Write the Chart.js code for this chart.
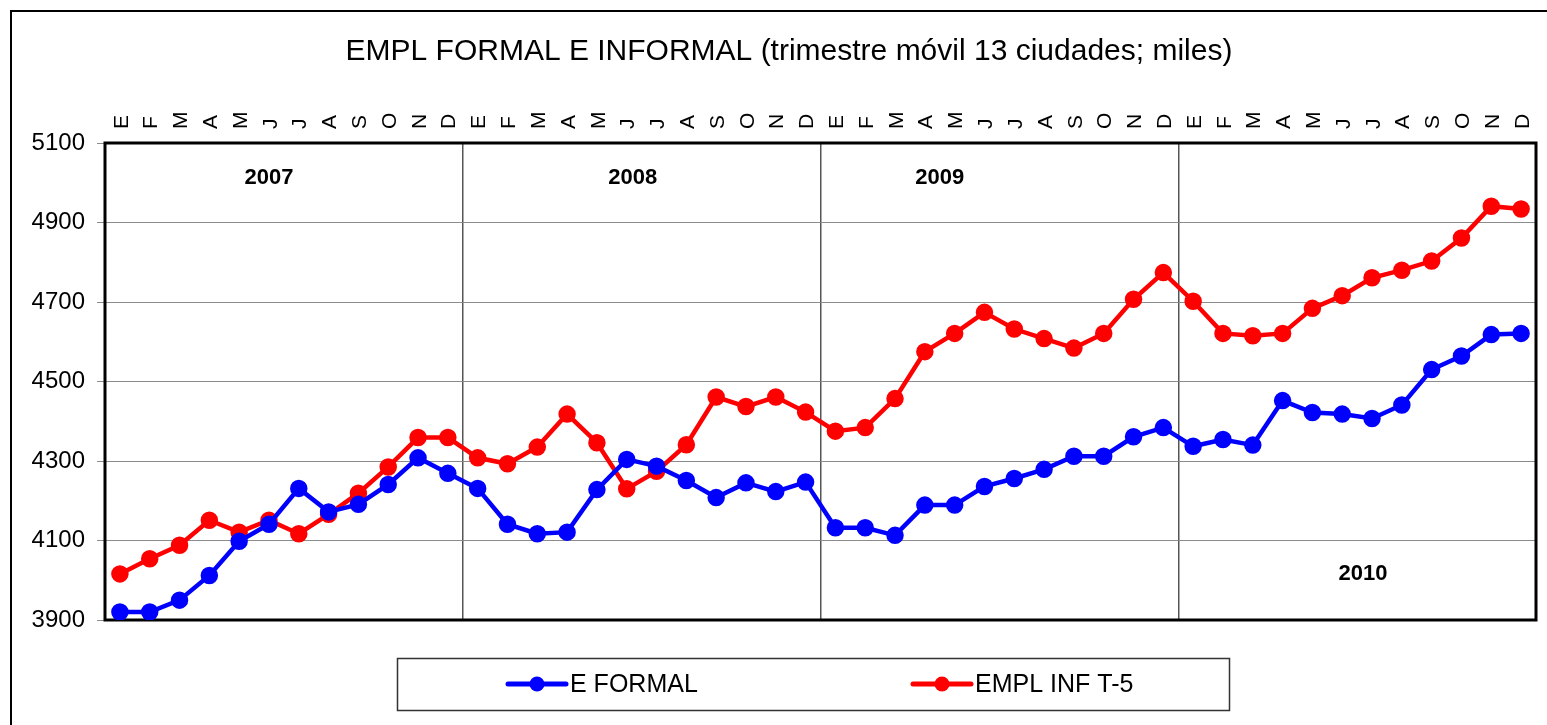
<!DOCTYPE html>
<html lang="es">
<head>
  <meta charset="UTF-8">
  <title>EMPL FORMAL E INFORMAL</title>
  <script src="https://cdn.jsdelivr.net/npm/chart.js"></script>
  <style>
    body {
      margin: 0;
      background: #fff;
    }
    #wrap {
      width: 1547px;
      height: 725px;
      position: relative;
    }
  </style>
</head>
<body>
  <div id="wrap"><canvas id="empleo"></canvas></div>

  <script>
    // meses (E=enero ... D=diciembre), 2007-2010
    const months = ['E','F','M','A','M','J','J','A','S','O','N','D'];
    const categories = [].concat(months, months, months, months);
    const yearLabels = ['2007', '2008', '2009', '2010'];
    const chartTitle = 'EMPL FORMAL E INFORMAL (trimestre móvil 13 ciudades; miles)';

    const formal = [
      3920, 3920, 3950, 4012, 4098, 4141, 4231, 4172, 4191, 4241, 4308, 4269,
      4231, 4141, 4117, 4121, 4228, 4304, 4287, 4251, 4208, 4245, 4223, 4247,
      4132, 4132, 4113, 4189, 4189, 4236, 4256, 4279, 4312, 4312, 4361, 4384,
      4337, 4354, 4340, 4452, 4422, 4418, 4407, 4441, 4530, 4564, 4618, 4621
    ];
    const informal = [
      4016, 4054, 4088, 4151, 4121, 4151, 4117, 4166, 4219, 4285, 4359, 4359,
      4308, 4293, 4335, 4418, 4346, 4230, 4274, 4341, 4461, 4437, 4461, 4423,
      4375, 4384, 4457, 4575, 4621, 4674, 4632, 4608, 4584, 4621, 4707, 4774,
      4702, 4621, 4615, 4621, 4684, 4716, 4761, 4780, 4803, 4861, 4941, 4934
    ];

    const yMin = 3900, yMax = 5100, yStep = 200;
    const FONT = '"Liberation Sans", Arial, sans-serif';

    // titulo, marcos, etiquetas de año y leyenda
    const decor = {
      id: 'decor',
      beforeDatasetsDraw(chart) {
        const { ctx, chartArea: a, scales } = chart;
        ctx.save();
        ctx.strokeStyle = '#000';
        ctx.lineWidth = 3;
        ctx.strokeRect(a.left, a.top, a.right - a.left, a.bottom - a.top);

        // años: [indice de categoria, valor]
        const spots = [[5, 5013], [17.2, 5013], [27.5, 5013], [41.7, 4016]];
        ctx.font = 'bold 22px ' + FONT;
        ctx.fillStyle = '#000';
        ctx.textAlign = 'center';
        ctx.textBaseline = 'middle';
        yearLabels.forEach((t, i) => {
          ctx.fillText(t, scales.x.getPixelForValue(spots[i][0]), scales.y.getPixelForValue(spots[i][1]));
        });
        ctx.restore();
      },
      afterDraw(chart) {
        const { ctx } = chart;
        ctx.save();
        // titulo
        ctx.font = '30px ' + FONT;
        ctx.fillStyle = '#000';
        ctx.textAlign = 'center';
        ctx.textBaseline = 'middle';
        ctx.fillText(chartTitle, 789, 52);

        // marco exterior
        ctx.strokeStyle = '#000';
        ctx.lineWidth = 2;
        ctx.strokeRect(11, 11, 1600, 800);

        // leyenda
        ctx.lineWidth = 1.5;
        ctx.strokeStyle = '#333';
        ctx.strokeRect(397.5, 658.5, 832, 52);
        const xs = [508, 913];
        const y = 684;
        ctx.font = '25px ' + FONT;
        ctx.textAlign = 'left';
        chart.data.datasets.forEach((ds, i) => {
          const x = xs[i];
          ctx.strokeStyle = ds.borderColor;
          ctx.lineWidth = 5;
          ctx.lineCap = 'round';
          ctx.beginPath();
          ctx.moveTo(x, y);
          ctx.lineTo(x + 58, y);
          ctx.stroke();
          ctx.fillStyle = ds.borderColor;
          ctx.beginPath();
          ctx.arc(x + 29, y, 7.5, 0, Math.PI * 2);
          ctx.fill();
          ctx.fillStyle = '#000';
          ctx.fillText(ds.label, x + 62, y + 1);
        });
        ctx.restore();
      }
    };

    new Chart(document.getElementById('empleo'), {
      type: 'line',
      data: {
        labels: categories,
        datasets: [
          {
            label: 'E FORMAL',
            data: formal,
            borderColor: '#0000ff',
            backgroundColor: '#0000ff',
            borderWidth: 4.5,
            pointRadius: 6.5,
            pointHoverRadius: 6.5,
            tension: 0
          },
          {
            label: 'EMPL INF T-5',
            data: informal,
            borderColor: '#ff0000',
            backgroundColor: '#ff0000',
            borderWidth: 4.5,
            pointRadius: 6.5,
            pointHoverRadius: 6.5,
            tension: 0
          }
        ]
      },
      options: {
        responsive: true,
        maintainAspectRatio: false,
        animation: false,
        layout: {
          padding: { left: 10, right: 10, top: 79, bottom: 105 }
        },
        scales: {
          x: {
            position: 'top',
            offset: true,
            afterFit: s => { s.height = 64; },
            border: { display: false },
            grid: {
              offset: true,
              drawTicks: false,
              lineWidth: 1.5,
              color: c => (c.index > 0 && c.index % 12 === 0) ? '#555' : 'rgba(0,0,0,0)'
            },
            ticks: {
              autoSkip: false,
              minRotation: 90,
              maxRotation: 90,
              padding: 14,
              labelOffset: 27,
              color: '#000',
              font: { family: FONT, size: 21 }
            }
          },
          y: {
            min: yMin,
            max: yMax,
            afterFit: s => { s.width = 95; },
            border: { display: false },
            grid: {
              color: '#8c8c8c',
              lineWidth: 1,
              tickLength: 8
            },
            ticks: {
              stepSize: yStep,
              padding: 12,
              color: '#000',
              font: { family: FONT, size: 24 },
              callback: v => String(v)
            }
          }
        },
        plugins: {
          legend: { display: false },
          tooltip: { enabled: false },
          title: { display: false }
        }
      },
      plugins: [decor]
    });
  </script>
</body>
</html>
